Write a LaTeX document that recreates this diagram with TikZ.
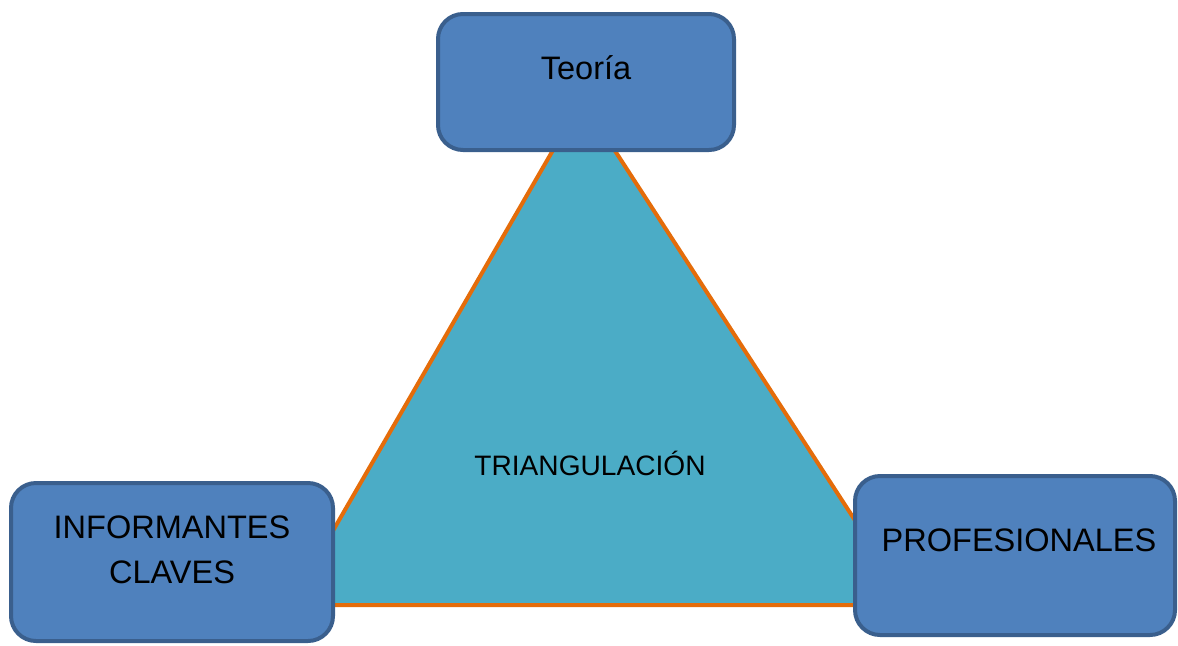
\documentclass[tikz,border=0pt]{standalone}
\usepackage{fontspec}
\setmainfont{Liberation Sans}
\definecolor{boxfill}{HTML}{4F81BD}
\definecolor{boxline}{HTML}{3A5F8D}
\definecolor{trifill}{HTML}{4BACC6}
\definecolor{triline}{HTML}{E46C0A}
\begin{document}
\begin{tikzpicture}[
	box/.style={draw=boxline,fill=boxfill,line width=0.08cm,rounded corners=0.5cm},
	txt/.style={align=center,font=\fontsize{18.5}{25.6}\selectfont}]
	\useasboundingbox (0,0) rectangle (23.56,-12.9);
	% triangle
	\coordinate (top) at (11.64,-2.0);
	\coordinate (left) at (5.8,-12.1);
	\coordinate (right) at (18.2,-12.1);
	\draw[draw=triline,fill=trifill,line width=0.08cm] (top) -- (left) -- (right) -- cycle;
	\node[font=\fontsize{16}{19}\selectfont] (tri) at (11.8,-9.26) {TRIANGULACIÓN};
	% boxes
	\node[box,minimum width=5.92cm,minimum height=2.72cm] (teoria) at (11.72,-1.64) {};
	\node[box,minimum width=6.44cm,minimum height=3.16cm] (inf) at (3.44,-11.24) {};
	\node[box,minimum width=6.4cm,minimum height=3.18cm] (prof) at (20.3,-11.11) {};
	\node[txt] (teoria-t) at ([yshift=0.28cm]teoria.center) {Teoría};
	\node[txt] (inf-t) at ([yshift=0.25cm]inf.center) {INFORMANTES\\CLAVES};
	\node[txt] (prof-t) at ([xshift=0.08cm,yshift=0.31cm]prof.center) {PROFESIONALES};
\end{tikzpicture}
\end{document}
